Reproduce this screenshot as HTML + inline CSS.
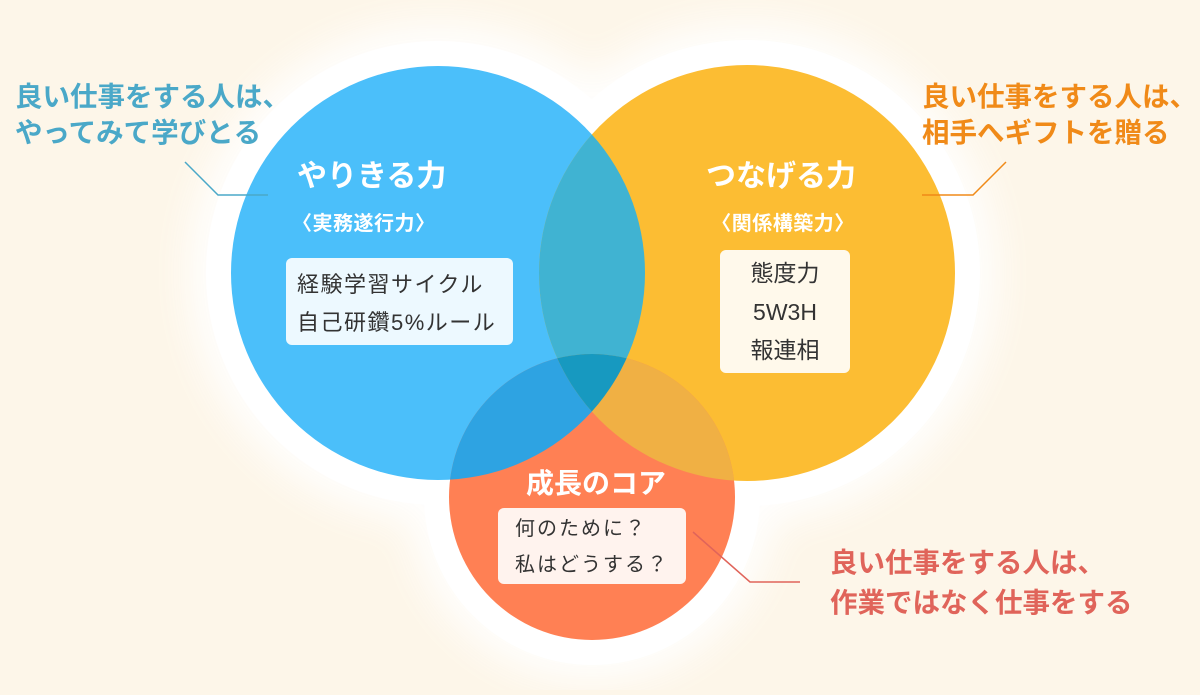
<!DOCTYPE html>
<html><head><meta charset="utf-8"><style>
html,body{margin:0;padding:0;}
body{width:1200px;height:690px;overflow:hidden;background:#fdf6e9;font-family:"Liberation Sans","Noto Sans CJK JP",sans-serif;}
svg text{font-family:"Liberation Sans","Noto Sans CJK JP",sans-serif;}
</style></head><body>
<svg width="1200" height="690" viewBox="0 0 1200 690" xmlns="http://www.w3.org/2000/svg">
<defs>
<filter id="blur" x="-30%" y="-30%" width="160%" height="160%"><feGaussianBlur stdDeviation="18"/></filter>
<clipPath id="cb"><circle cx="438" cy="273" r="207"/></clipPath>
<clipPath id="co"><circle cx="747" cy="273" r="208"/></clipPath>
<clipPath id="cr"><circle cx="592" cy="497" r="143"/></clipPath>
</defs>
<rect width="1200" height="690" fill="#fdf6e9"/>
<g fill="#ffffff" filter="url(#blur)" opacity="0.9">
<circle cx="438" cy="273" r="250"/><circle cx="747" cy="273" r="250"/><circle cx="592" cy="497" r="185"/>
</g>
<g fill="#ffffff">
<circle cx="438" cy="273" r="232"/><circle cx="747" cy="273" r="233"/><circle cx="592" cy="497" r="168"/>
</g>
<circle cx="438" cy="273" r="207" fill="#4bbffa"/>
<circle cx="747" cy="273" r="208" fill="#fcbd33"/>
<circle cx="592" cy="497" r="143" fill="#ff8054"/>
<g clip-path="url(#cb)"><circle cx="747" cy="273" r="208" fill="#40b3d2"/><circle cx="592" cy="497" r="143" fill="#2ea3e2"/></g>
<g clip-path="url(#co)"><circle cx="592" cy="497" r="143" fill="#f0b044"/></g>
<g clip-path="url(#cb)"><g clip-path="url(#co)"><circle cx="592" cy="497" r="143" fill="#1799c0"/></g></g>

<polyline points="185,162 218,195 268,195" fill="none" stroke="#4aa8c8" stroke-width="1.5"/>
<polyline points="1006,162 973,195 922,195" fill="none" stroke="#f08a18" stroke-width="1.5"/>
<polyline points="693,532 750,582 800,582" fill="none" stroke="#e0645a" stroke-width="1.5"/>

<g font-weight="bold" font-size="27.5">
<text x="15" y="106" fill="#4aa8c8">良い仕事をする人は、</text>
<text x="15" y="142" fill="#4aa8c8">やってみて学びとる</text>
<text x="922" y="106" fill="#f08a18">良い仕事をする人は、</text>
<text x="922" y="142" fill="#f08a18">相手へギフトを贈る</text>
<text x="830" y="572" fill="#e0645a">良い仕事をする人は、</text>
<text x="830" y="612" fill="#e0645a">作業ではなく仕事をする</text>
</g>

<text x="297" y="186" fill="#fff" font-size="30" font-weight="bold">やりきる力</text>
<text x="292" y="230" fill="#fff" font-size="20" font-weight="bold" letter-spacing="0.5">〈実務遂行力〉</text>
<rect x="286" y="258" width="227" height="87" rx="6" fill="#ffffff" fill-opacity="0.9"/>
<text x="297" y="292" fill="#333" font-size="22" letter-spacing="1.5">経験学習サイクル</text>
<text x="297" y="330" fill="#333" font-size="22" letter-spacing="1.5">自己研鑽5%ルール</text>

<text x="781" y="186" fill="#fff" font-size="30" font-weight="bold" text-anchor="middle">つなげる力</text>
<text x="783" y="230" fill="#fff" font-size="20" font-weight="bold" text-anchor="middle" letter-spacing="0.5">〈関係構築力〉</text>
<rect x="720" y="250" width="130" height="123" rx="6" fill="#ffffff" fill-opacity="0.9"/>
<text x="785" y="281" fill="#333" font-size="23" text-anchor="middle">態度力</text>
<text x="785" y="320" fill="#333" font-size="23" text-anchor="middle">5W3H</text>
<text x="785" y="358" fill="#333" font-size="23" text-anchor="middle">報連相</text>

<text x="596" y="493" fill="#fff" font-size="28" font-weight="bold" text-anchor="middle">成長のコア</text>
<rect x="498" y="508" width="188" height="76" rx="6" fill="#ffffff" fill-opacity="0.9"/>
<text x="515" y="535" fill="#333" font-size="20" letter-spacing="2">何のために？</text>
<text x="515" y="571" fill="#333" font-size="20" letter-spacing="2">私はどうする？</text>
</svg>
</body></html>
